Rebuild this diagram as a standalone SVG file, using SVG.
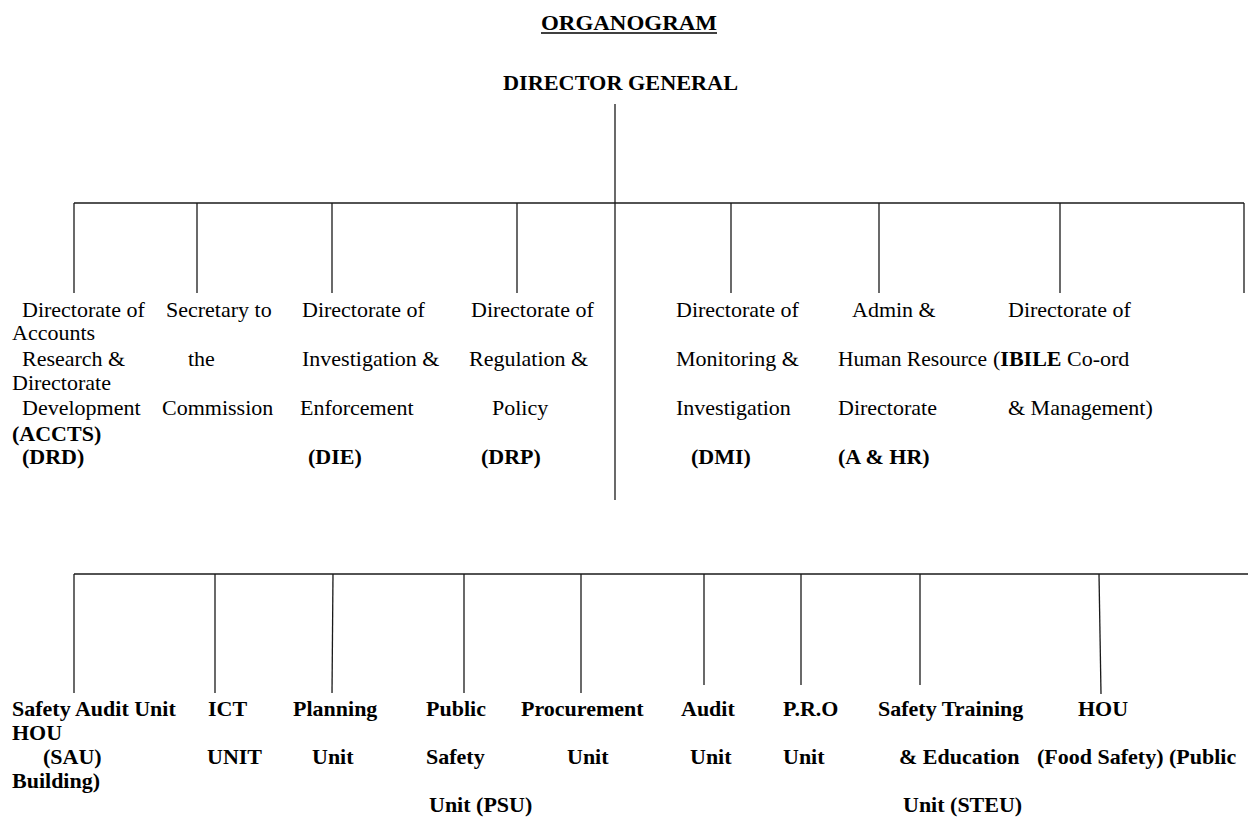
<svg xmlns="http://www.w3.org/2000/svg" width="1248" height="819" viewBox="0 0 1248 819">
<style>
text{font-family:"Liberation Serif","Times New Roman",serif;font-size:22px;fill:#000}
.b{font-weight:bold}
.c line{stroke:#1a1a1a;stroke-width:1.3;fill:none}
</style>
<rect width="1248" height="819" fill="#fff"/>
<g id="title">
<text class="b" x="541" y="30" textLength="176" lengthAdjust="spacingAndGlyphs">ORGANOGRAM</text>
<line x1="541" y1="33" x2="717" y2="33" stroke="#000" stroke-width="1.6"/>
</g>
<g id="director-general">
<text class="b" x="503" y="90" textLength="235" lengthAdjust="spacingAndGlyphs">DIRECTOR GENERAL</text>
</g>
<g class="c" id="connectors">
<line x1="615" y1="104" x2="615" y2="500"/>
<line x1="74" y1="203" x2="1244" y2="203"/>
<line x1="74" y1="203" x2="74" y2="293"/>
<line x1="197" y1="203" x2="197" y2="293"/>
<line x1="332" y1="203" x2="332" y2="293"/>
<line x1="517" y1="203" x2="517" y2="293"/>
<line x1="731" y1="203" x2="731" y2="293"/>
<line x1="879" y1="203" x2="879" y2="293"/>
<line x1="1060" y1="203" x2="1060" y2="293"/>
<line x1="1244" y1="203" x2="1244" y2="293"/>
<line x1="74" y1="574" x2="1248" y2="574"/>
<line x1="74" y1="574" x2="74" y2="693"/>
<line x1="215" y1="574" x2="215" y2="693"/>
<line x1="333" y1="574" x2="332" y2="693"/>
<line x1="464" y1="574" x2="464" y2="693"/>
<line x1="581" y1="574" x2="581" y2="693"/>
<line x1="704" y1="574" x2="704" y2="685"/>
<line x1="801" y1="574" x2="801" y2="685"/>
<line x1="920" y1="574" x2="920" y2="685"/>
<line x1="1099" y1="574" x2="1101" y2="694"/>
</g>
<g id="drd">
<text x="22" y="317">Directorate of</text>
<text x="12" y="340">Accounts</text>
<text x="22" y="366">Research &amp;</text>
<text x="12" y="390">Directorate</text>
<text x="22" y="415">Development</text>
<text class="b" x="12" y="441">(ACCTS)</text>
<text class="b" x="22" y="464">(DRD)</text>
</g>
<g id="secretary">
<text x="166" y="317">Secretary to</text>
<text x="188" y="366">the</text>
<text x="162" y="415">Commission</text>
</g>
<g id="die">
<text x="302" y="317">Directorate of</text>
<text x="302" y="366">Investigation &amp;</text>
<text x="300" y="415">Enforcement</text>
<text class="b" x="308" y="464">(DIE)</text>
</g>
<g id="drp">
<text x="471" y="317">Directorate of</text>
<text x="469" y="366">Regulation &amp;</text>
<text x="492" y="415">Policy</text>
<text class="b" x="481" y="464">(DRP)</text>
</g>
<g id="dmi">
<text x="676" y="317">Directorate of</text>
<text x="676" y="366">Monitoring &amp;</text>
<text x="676" y="415">Investigation</text>
<text class="b" x="691" y="464">(DMI)</text>
</g>
<g id="ahr">
<text x="852" y="317">Admin &amp;</text>
<text x="838" y="366" textLength="149" lengthAdjust="spacingAndGlyphs">Human Resource</text>
<text x="838" y="415">Directorate</text>
<text class="b" x="838" y="464">(A &amp; HR)</text>
</g>
<g id="ibile">
<text x="1008" y="317">Directorate of</text>
<text x="993" y="366">(<tspan class="b">IBILE</tspan> Co-ord</text>
<text x="1008" y="415">&amp; Management)</text>
</g>
<g id="sau">
<text class="b" x="12" y="716">Safety Audit Unit</text>
<text class="b" x="12" y="740">HOU</text>
<text class="b" x="43" y="764">(SAU)</text>
<text class="b" x="12" y="788">Building)</text>
</g>
<g id="ict">
<text class="b" x="208" y="716">ICT</text>
<text class="b" x="207" y="764">UNIT</text>
</g>
<g id="planning">
<text class="b" x="293" y="716">Planning</text>
<text class="b" x="312" y="764">Unit</text>
</g>
<g id="psu">
<text class="b" x="426" y="716">Public</text>
<text class="b" x="426" y="764">Safety</text>
<text class="b" x="429" y="812">Unit (PSU)</text>
</g>
<g id="procurement">
<text class="b" x="521" y="716">Procurement</text>
<text class="b" x="567" y="764">Unit</text>
</g>
<g id="audit">
<text class="b" x="681" y="716">Audit</text>
<text class="b" x="690" y="764">Unit</text>
</g>
<g id="pro">
<text class="b" x="783" y="716">P.R.O</text>
<text class="b" x="783" y="764">Unit</text>
</g>
<g id="steu">
<text class="b" x="878" y="716">Safety Training</text>
<text class="b" x="899" y="764">&amp; Education</text>
<text class="b" x="903" y="812">Unit (STEU)</text>
</g>
<g id="food-safety">
<text class="b" x="1078" y="716">HOU</text>
<text class="b" x="1037" y="764">(Food Safety) (Public</text>
</g>
</svg>
